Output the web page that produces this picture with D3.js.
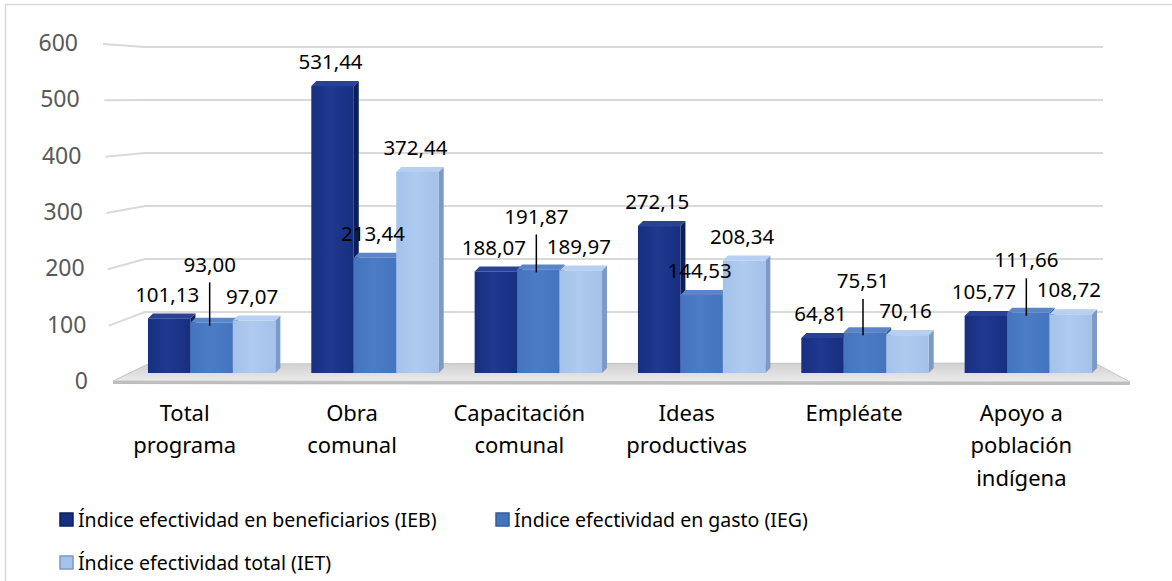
<!DOCTYPE html>
<html>
<head>
<meta charset="utf-8">
<script src="https://cdn.jsdelivr.net/npm/d3@7"></script>
<style>
  body { margin: 0; background: #fff; }
  svg { display: block; font-family: "Noto Sans", "Open Sans", sans-serif; }
</style>
</head>
<body>
<div id="chart"></div>
<script>
// Data
const categories = ["Total programa", "Obra comunal", "Capacitación comunal", "Ideas productivas", "Empléate", "Apoyo a población indígena"];
const categoryLines = [["Total", "programa"], ["Obra", "comunal"], ["Capacitación", "comunal"], ["Ideas", "productivas"], ["Empléate"], ["Apoyo a", "población", "indígena"]];
const seriesNames = ["Índice efectividad en beneficiarios (IEB)", "Índice efectividad en gasto (IEG)", "Índice efectividad total (IET)"];
const ieb = [101.13, 531.44, 188.07, 272.15, 64.81, 105.77];
const ieg = [93.00, 213.44, 191.87, 144.53, 75.51, 111.66];
const iet = [97.07, 372.44, 189.97, 208.34, 70.16, 108.72];
const yTicks = [0, 100, 200, 300, 400, 500, 600];

const W = 1172, H = 581;
const svg = d3.select("#chart").append("svg").attr("width", W).attr("height", H);

// colours: front, side, top
const palette = [
    { front: "#172f80", light: "#20398e", side: "#0d1f5a", top: "#2a4296" },
    { front: "#4474bd", light: "#4c7cc6", side: "#345c9a", top: "#5a86c9" },
    { front: "#a4c2ea", light: "#aecaef", side: "#7d99c4", top: "#b7cff0" }
];

const defs = svg.append("defs");
palette.forEach((c, i) => {
    const g = defs.append("linearGradient").attr("id", "grad" + i)
        .attr("x1", "0%").attr("x2", "100%").attr("y1", "0%").attr("y2", "0%");
    g.append("stop").attr("offset", "0%").attr("stop-color", c.front);
    g.append("stop").attr("offset", "45%").attr("stop-color", c.light);
    g.append("stop").attr("offset", "100%").attr("stop-color", c.front);
});
const floorGrad = defs.append("linearGradient").attr("id", "floorGrad")
    .attr("x1", "0%").attr("x2", "0%").attr("y1", "0%").attr("y2", "100%");
floorGrad.append("stop").attr("offset", "0%").attr("stop-color", "#d0d0d0");
floorGrad.append("stop").attr("offset", "100%").attr("stop-color", "#ececec");

// chart border
svg.append("rect")
    .attr("x", 5.5).attr("y", 4.5)
    .attr("width", 1200).attr("height", 620)
    .attr("fill", "none").attr("stroke", "#d9d9d9").attr("stroke-width", 1.5);

// Scales
const yFront = d3.scaleLinear().domain([0, 600]).range([383, 45]);   // tick labels / wall front edge
const yBack = d3.scaleLinear().domain([0, 600]).range([365, 47]);    // back wall gridlines
const yBar = d3.scaleLinear().domain([0, 600]).range([373, 49]);     // bar heights
const xGroup = d3.scaleBand().domain(categories).range([130, 1110]).paddingInner(0.22).paddingOuter(0.11);
const xSeries = d3.scaleBand().domain(d3.range(3)).range([0, xGroup.bandwidth()]).padding(0);
const xLabel = d3.scaleBand().domain(categories).range([101, 1105]);

const wallLeft = 145, wallRight = 1103;

// Gridlines on back wall plus left wall segment
const grid = svg.append("g");
yTicks.filter(v => v > 0).forEach(v => {
    grid.append("path")
        .attr("d", `M${110 - v / 600 * 7},${yFront(v) - 1}L${wallLeft},${yBack(v)}L${wallRight},${yBack(v)}`)
        .attr("fill", "none").attr("stroke", "#d9d9d9").attr("stroke-width", 2);
});

// Floor
const floor = svg.append("g");
floor.append("path")
    .attr("d", `M113,381L148,364L1095,363L1130,382Z`)
    .attr("fill", "url(#floorGrad)").attr("stroke", "#c4c4c4").attr("stroke-width", 1);
floor.append("path")
    .attr("d", `M113,381L1130,382L1130,385L113,384Z`)
    .attr("fill", "#bdbdbd");

// Y axis
const yAxis = svg.append("g")
    .attr("transform", "translate(88,0)")
    .call(d3.axisLeft(yFront).tickValues(yTicks).tickSize(0).tickPadding(0));
yAxis.select(".domain").remove();
yAxis.selectAll(".tick text")
    .attr("x", d => -d / 600 * 10)
    .attr("y", d => -2)
    .attr("fill", "#595959")
    .style("font-size", "23px")
    .style("font-family", "'Noto Sans', sans-serif");

// Bars
const seriesValues = [ieb, ieg, iet];
const dx = 5, dy = 5;
const barsG = svg.append("g");
const labelInfo = [];
categories.forEach((cat, ci) => {
    const g0 = xGroup(cat);
    const infos = [];
    seriesValues.forEach((vals, si) => {
        const v = vals[ci];
        const x = g0 + xSeries(si);
        const w = xSeries.bandwidth();
        const y = yBar(v), b = yBar(0);
        const c = palette[si];
        const g = barsG.append("g");
        g.append("path")
            .attr("d", `M${x + w},${y}L${x + w + dx},${y - dy}L${x + w + dx},${b - dy}L${x + w},${b}Z`)
            .attr("fill", c.side);
        g.append("path")
            .attr("d", `M${x},${y}L${x + dx},${y - dy}L${x + w + dx},${y - dy}L${x + w},${y}Z`)
            .attr("fill", c.top);
        g.append("rect")
            .attr("x", x).attr("y", y)
            .attr("width", w).attr("height", b - y)
            .attr("fill", `url(#grad${si})`);
        infos.push({ v, cx: x + w / 2 - 2, top: y - dy, ly: y - 24 });
    });
    labelInfo.push(infos);
});

// Data labels (middle label lifted with a leader line when it collides)
const fmt = v => v.toFixed(2).replace(".", ",");
const labels = svg.append("g")
    .style("font-size", "20.5px").attr("fill", "#000").attr("text-anchor", "middle");
labelInfo.forEach(infos => {
    const mid = infos[1];
    const nb = Math.min(infos[0].ly, infos[2].ly);
    if (Math.abs(mid.ly - nb) < 25) {
        mid.ly = nb - 30;
        labels.append("line")
            .attr("x1", mid.cx).attr("x2", mid.cx)
            .attr("y1", mid.ly + 18).attr("y2", mid.top + 8)
            .attr("stroke", "#000").attr("stroke-width", 1.5);
    }
    infos.forEach(d => {
        labels.append("text")
            .attr("x", d.cx).attr("y", d.ly)
            .attr("dy", "0.35em")
            .text(fmt(d.v));
    });
});

// Category labels
const cats = svg.append("g")
    .style("font-size", "22px").attr("fill", "#000").attr("text-anchor", "middle");
categories.forEach((cat, ci) => {
    const cx = xLabel(cat) + xLabel.bandwidth() / 2;
    categoryLines[ci].forEach((line, li) => {
        cats.append("text")
            .attr("x", cx).attr("y", 413 + li * 32.5)
            .attr("dy", "0.35em")
            .text(line);
    });
});

// Legend
const legendPos = [{ x: 60, y: 520 }, { x: 496, y: 520 }, { x: 60, y: 563 }];
const legend = svg.append("g").style("font-size", "19.5px");
seriesNames.forEach((name, i) => {
    const p = legendPos[i];
    legend.append("rect")
        .attr("x", p.x).attr("y", p.y - 7)
        .attr("width", 13).attr("height", 13)
        .attr("fill", palette[i].front)
        .attr("stroke", palette[i].side).attr("stroke-width", 1.5);
    legend.append("text")
        .attr("x", p.x + 18).attr("y", p.y)
        .attr("dy", "0.35em")
        .attr("fill", "#000")
        .text(name);
});
</script>
</body>
</html>
